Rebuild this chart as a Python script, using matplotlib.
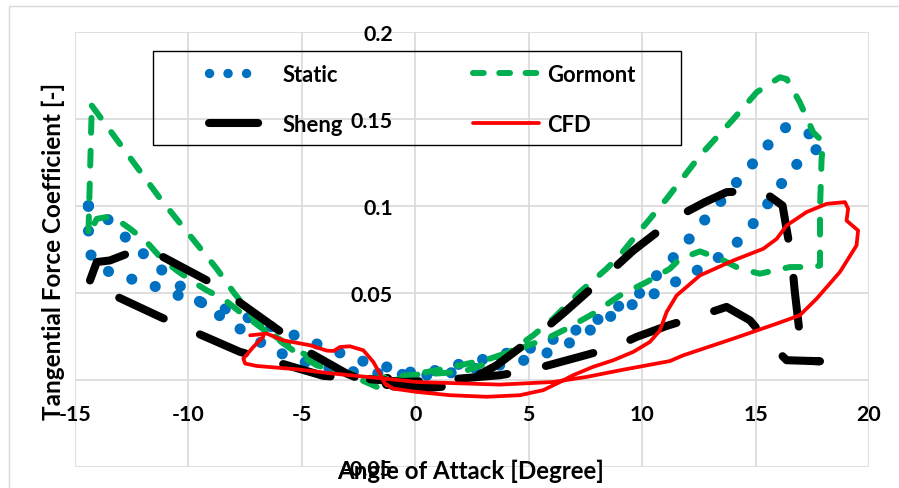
import matplotlib
matplotlib.use("Agg")
import matplotlib.pyplot as plt
from matplotlib.lines import Line2D
from matplotlib.patches import Rectangle
from matplotlib.ticker import FuncFormatter

# Static: branch with rising angle, then branch coming back
static_up_aoa = [-14.41, -13.93, -13.16, -12.40, -11.57, -10.78, -9.93, -9.08, -8.17, -7.24,
                 -6.37, -5.33, -4.30, -3.20, -2.00, -1.19, 0.06, 1.09, 2.12, 3.15,
                 4.25, 5.35, 6.30, 7.26, 8.21, 9.17, 10.20, 11.12, 12.08, 13.02,
                 13.94, 14.65, 15.31, 15.93, 16.54, 17.31, 17.91]
static_up_ct = [0.1003, 0.0975, 0.0870, 0.0774, 0.0679, 0.0587, 0.0493, 0.0411, 0.0331, 0.0255,
                0.0178, 0.0124, 0.0080, 0.0055, 0.0040, 0.0038, 0.0029, 0.0029, 0.0058, 0.0077,
                0.0096, 0.0134, 0.0182, 0.0245, 0.0335, 0.0411, 0.0472, 0.0541, 0.0606, 0.0675,
                0.0757, 0.0858, 0.0970, 0.1089, 0.1204, 0.1304, 0.1338]
static_down_aoa = [17.36, 16.34, 15.59, 14.90, 14.19, 13.50, 12.80, 12.11, 11.40, 10.67,
                   9.98, 9.02, 8.21, 7.26, 6.30, 5.35, 4.25, 3.15, 2.04, 1.01,
                   -0.53, -1.48, -2.51, -3.61, -4.57, -5.52, -6.60, -7.65, -8.61, -9.66,
                   -10.67, -11.69, -12.72, -13.75, -14.34, -14.41, -14.41]
static_down_ct = [0.1415, 0.1453, 0.1358, 0.1248, 0.1141, 0.1032, 0.0927, 0.0817, 0.0708, 0.0606,
                  0.0507, 0.0430, 0.0360, 0.0297, 0.0248, 0.0191, 0.0163, 0.0124, 0.0096, 0.0057,
                  0.0044, 0.0086, 0.0115, 0.0172, 0.0220, 0.0268, 0.0320, 0.0373, 0.0421, 0.0453,
                  0.0497, 0.0550, 0.0589, 0.0635, 0.0726, 0.0870, 0.1003]

gormont_aoa = [-14.26, -11.25, -8.75, -8.02, -6.99, -6.26, -5.08, -4.00, -2.88, -1.70,
               -0.67, 0.06, 0.94, 2.12, 3.29, 4.61, 5.79, 6.67, 7.84, 9.02,
               10.20, 11.22, 11.67, 12.55, 13.43, 14.31, 15.19, 16.51, 17.54, 17.84,
               17.84, 17.91, 17.98, 17.54, 16.95, 16.37, 16.07, 15.05, 14.02, 12.55,
               11.08, 9.61, 9.02, 8.43, 7.26, 6.08, 5.20, 4.17, 3.15, 2.12,
               1.09, -0.23, -1.85, -2.44, -3.40, -4.35, -5.08, -6.11, -6.84, -7.73,
               -8.46, -9.19, -9.78, -10.52, -11.25, -11.84, -12.57, -13.09, -13.60, -14.04,
               -14.41, -14.26]
gormont_ct = [0.1577, 0.1044, 0.0640, 0.0507, 0.0335, 0.0258, 0.0163, 0.0090, 0.0030, -0.0038,
              0.0010, 0.0038, 0.0057, 0.0090, 0.0124, 0.0182, 0.0239, 0.0296, 0.0382, 0.0487,
              0.0564, 0.0640, 0.0698, 0.0740, 0.0698, 0.0640, 0.0612, 0.0650, 0.0650, 0.0659,
              0.0985, 0.1271, 0.1367, 0.1424, 0.1596, 0.1730, 0.1740, 0.1654, 0.1500, 0.1290,
              0.1042, 0.0812, 0.0717, 0.0640, 0.0507, 0.0354, 0.0258, 0.0163, 0.0096, 0.0050,
              0.0040, 0.0030, 0.0010, 0.0030, 0.0050, 0.0086, 0.0143, 0.0239, 0.0306, 0.0392,
              0.0468, 0.0516, 0.0564, 0.0631, 0.0708, 0.0794, 0.0870, 0.0917, 0.0937, 0.0927,
              0.0831, 0.1577]

sheng_aoa = [-14.34, -14.04, -13.46, -12.43, -11.25, -9.05, -7.87, -5.82, -4.79, -3.02,
             -2.14, -1.00, 0.50, 1.40, 2.50, 3.59, 5.64, 6.67, 8.58, 9.61,
             11.52, 12.77, 13.72, 15.27, 16.19, 16.59, 16.73, 17.03, 17.20, 17.84,
             16.37, 15.63, 14.75, 13.72, 12.40, 11.15, 9.76, 8.80, 7.48, 5.05,
             3.73, 1.09, -0.50, -2.44, -4.05, -6.40, -7.73, -10.07, -11.25, -13.60,
             -14.34]
sheng_ct = [0.0573, 0.0679, 0.0688, 0.0740, 0.0717, 0.0564, 0.0459, 0.0268, 0.0168, 0.0038,
            -0.0009, -0.0035, -0.0045, -0.0035, 0.0010, 0.0086, 0.0287, 0.0401, 0.0622, 0.0745,
            0.0937, 0.1023, 0.1080, 0.1090, 0.1003, 0.0700, 0.0507, 0.0172, 0.0112, 0.0109,
            0.0115, 0.0210, 0.0344, 0.0421, 0.0364, 0.0315, 0.0249, 0.0191, 0.0143, 0.0057,
            0.0029, 0.0000, -0.0010, 0.0010, 0.0025, 0.0115, 0.0163, 0.0296, 0.0364, 0.0507,
            0.0573]

cfd_aoa = [-6.70, -7.14, -7.58, -7.50, -6.99, -5.23, -3.61, -1.41, 0.06, 3.73,
           6.08, 7.55, 9.02, 11.22, 11.81, 14.02, 15.93, 16.95, 17.69, 18.72,
           19.45, 19.52, 19.01, 19.08, 18.94, 18.13, 17.25, 16.37, 15.93, 15.34,
           14.02, 12.55, 11.52, 11.08, 10.78, 10.34, 9.61, 8.73, 7.84, 6.96,
           6.38, 5.64, 4.61, 3.15, 1.53, 0.06, -0.97, -1.34, -1.56, -1.85,
           -2.29, -2.88, -3.32, -3.60, -3.90, -4.64, -5.82, -6.55, -7.28]
cfd_ct = [0.0250, 0.0191, 0.0124, 0.0096, 0.0082, 0.0063, 0.0038, 0.0010, -0.0010, -0.0025,
          -0.0010, 0.0019, 0.0057, 0.0110, 0.0143, 0.0239, 0.0325, 0.0373, 0.0468, 0.0622,
          0.0774, 0.0860, 0.0917, 0.0985, 0.1023, 0.1013, 0.0966, 0.0889, 0.0812, 0.0755,
          0.0688, 0.0602, 0.0487, 0.0392, 0.0285, 0.0220, 0.0163, 0.0115, 0.0077, 0.0029,
          -0.0010, -0.0057, -0.0086, -0.0095, -0.0086, -0.0067, -0.0048, -0.0019, 0.0038, 0.0105,
          0.0172, 0.0195, 0.0191, 0.0168, 0.0170, 0.0201, 0.0229, 0.0268, 0.0258]

x_ticks = [-15, -10, -5, 0, 5, 10, 15, 20]
y_ticks = [-0.05, 0, 0.05, 0.1, 0.15, 0.2]

plt.rcParams["font.family"] = ["Lato", "DejaVu Sans"]
plt.rcParams["font.weight"] = "bold"

W, H = 899, 489
fig = plt.figure(figsize=(W / 100, H / 100), dpi=100)
renderer = fig.canvas.get_renderer()


def text_width(s, size):
    t = fig.text(0, 0, s, fontsize=size, weight="bold")
    w = t.get_window_extent(renderer).width
    t.remove()
    return w


# sizes fitted to the widths measured on the reference
tick_fs = 15 * 42 / text_width("0.05", 15)
leg_fs = 15 * 89 / text_width("Gormont", 15)
px_per_em = leg_fs * 100 / 72

ax = fig.add_axes([75 / W, 20.7 / H, 794 / W, 435.3 / H])

static, = ax.plot(static_up_aoa + static_down_aoa, static_up_ct + static_down_ct,
                  color="#0070C0", lw=8.0, linestyle=(0, (0.01, 2.2)),
                  dash_capstyle="round", label="Static")
gormont, = ax.plot(gormont_aoa, gormont_ct, color="#00B050", lw=4.3,
                   linestyle=(0, (2.5, 3.0)), dash_capstyle="round", label="Gormont")
sheng, = ax.plot(sheng_aoa, sheng_ct, color="black", lw=5.8,
                 linestyle=(0, (6.1, 4.9)), dash_capstyle="round", label="Sheng")
cfd, = ax.plot(cfd_aoa, cfd_ct, color="#FF0000", lw=2.7, solid_capstyle="round",
               solid_joinstyle="round", label="CFD")

ax.set_xlim(-15, 20)
ax.set_ylim(-0.05, 0.2)
ax.set_xticks(x_ticks)
ax.set_yticks(y_ticks)
fmt = FuncFormatter(lambda v, p: f"{v:g}")
ax.xaxis.set_major_formatter(fmt)
ax.yaxis.set_major_formatter(fmt)
ax.grid(color="#D9D9D9", lw=1.2)
ax.set_axisbelow(True)
for s in ax.spines.values():
    s.set_visible(False)
ax.spines["left"].set_position(("data", 0))
ax.spines["bottom"].set_position(("data", 0))
ax.tick_params(axis="both", length=0, labelsize=tick_fs)
ax.tick_params(axis="y", pad=16)
ax.tick_params(axis="x", pad=17)

# legend handles drawn a bit tighter than the plotted lines, as in the reference
h_static = Line2D([], [], color="#0070C0", lw=6.8, linestyle=(0, (0.01, 1.95)),
                  dash_capstyle="round")
h_sheng = Line2D([], [], color="black", lw=5.8, linestyle=(0, (6.1, 4.9)),
                 dash_capstyle="round")
h_gormont = Line2D([], [], color="#00B050", lw=4.3, linestyle=(0, (1.8, 2.6)),
                   dash_capstyle="round")
h_cfd = Line2D([], [], color="#FF0000", lw=2.7, solid_capstyle="round")

leg_kw = dict(frameon=False, fontsize=leg_fs, labelspacing=1.3, borderpad=0,
              borderaxespad=0, loc="upper left", bbox_transform=fig.transFigure)
leg1 = ax.legend([h_static, h_sheng], ["Static", "Sheng"],
                 handlelength=55 / px_per_em, handletextpad=19 / px_per_em,
                 bbox_to_anchor=(209 / W, 1 - 65 / H), **leg_kw)
ax.add_artist(leg1)
ax.legend([h_gormont, h_cfd], ["Gormont", "CFD"],
          handlelength=66 / px_per_em, handletextpad=8 / px_per_em,
          bbox_to_anchor=(473 / W, 1 - 65 / H), **leg_kw)
fig.add_artist(Rectangle((153 / W, 1 - 146 / H), 528 / W, 94 / H,
                         transform=fig.transFigure, fill=False, ec="black", lw=1.0))
fig.add_artist(Rectangle((8.5 / W, -0.05), 1.0, 1 - 7 / H + 0.05,
                         transform=fig.transFigure, fill=False, ec="#D9D9D9", lw=1.0))

ylab = fig.text(53 / W, 1 - 251 / H, "Tangential Force Coefficient [-]", rotation=90,
                ha="center", va="center", fontsize=15, weight="bold")
xlab = fig.text(471 / W, 1 - 471 / H, "Angle of Attack [Degree]",
                ha="center", va="center", fontsize=15, weight="bold")
ylab.set_fontsize(15 * 338 / ylab.get_window_extent(renderer).height)
xlab.set_fontsize(15 * 268 / xlab.get_window_extent(renderer).width)

fig.savefig("out.png", dpi=100)
